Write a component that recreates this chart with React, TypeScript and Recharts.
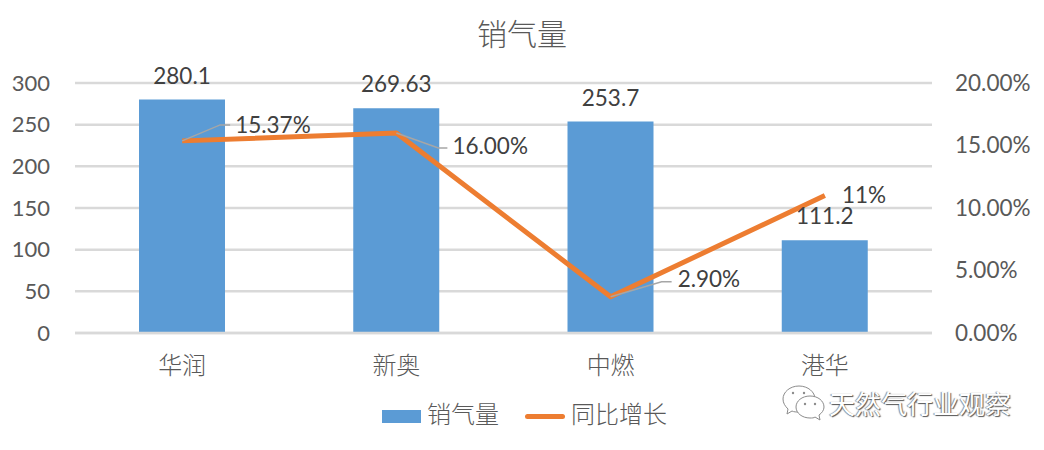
import { ComposedChart, Bar, Line, XAxis, YAxis, CartesianGrid, LabelList } from 'recharts';

const companies = ['华润', '新奥', '中燃', '港华'];
const salesVolume = [280.1, 269.63, 253.7, 111.2];
const growthPct = [15.37, 16.0, 2.9, 11];
const growthLabels = ['15.37%', '16.00%', '2.90%', '11%'];
const volumeTicks = [0, 50, 100, 150, 200, 250, 300];
const growthTicks = [0, 5, 10, 15, 20];

const chartData = companies.map((name, i) => ({
  name,
  sales: salesVolume[i],
  growth: growthPct[i],
}));

const LATIN = 'Lato, Carlito, sans-serif';
const CJK = '"Noto Sans CJK SC", sans-serif';
const GREY = '#595959';
const BAR_BLUE = '#5b9bd5';
const LINE_ORANGE = '#ed7d31';

// manual label placement, relative to each line point: [elbow dx, elbow dy, end dx, label dx, label dy]
const leaderOffsets = [
  [38, -16, 48, 53, -14],
  [42, 15, 51, 56, 15],
  [51, -15, 61, 67, -15],
  null,
];

function GrowthLabel({ x, y, index }: any) {
  const leader = leaderOffsets[index];
  if (!leader) {
    return (
      <text x={x + 17} y={y + 2} dominantBaseline="middle" fontSize={22.5} fontFamily={LATIN} fill="#404040">
        {growthLabels[index]}
      </text>
    );
  }
  const [ex, ey, endX, lx, ly] = leader;
  return (
    <g>
      <polyline
        points={`${x},${y} ${x + ex},${y + ey} ${x + endX},${y + ey}`}
        fill="none"
        stroke="#a6a6a6"
        strokeWidth={1.5}
      />
      <text x={x + lx} y={y + ly} dominantBaseline="middle" fontSize={22.5} fontFamily={LATIN} fill="#404040">
        {growthLabels[index]}
      </text>
    </g>
  );
}

function WeChatMark() {
  return (
    <svg width={48} height={40} style={{ position: 'absolute', left: 780, top: 384 }}>
      <g fill="#fff" stroke="#8c8c8c" strokeWidth={1}>
        <path d="M19 2c-9 0-16 6-16 13 0 4 2 7 5 10l-1 5 5-3c2 1 4 1 7 1 9 0 16-6 16-13S28 2 19 2z" />
        <path d="M30 12c-8 0-14 5-14 11s6 11 14 11c2 0 4 0 5-1l5 3-1-5c3-2 5-5 5-8 0-6-6-11-14-11z" />
      </g>
      <g fill="#8c8c8c">
        <circle cx={13} cy={9} r={1.2} />
        <circle cx={24} cy={9} r={1.2} />
        <circle cx={25} cy={20} r={1.2} />
        <circle cx={35} cy={20} r={1.2} />
      </g>
    </svg>
  );
}

export default function App() {
  return (
    <div style={{ position: 'absolute', left: 0, top: 0, width: 1044, height: 450, background: '#fff', overflow: 'hidden' }}>
      <ComposedChart
        width={1044}
        height={450}
        data={chartData}
        margin={{ top: 83, right: 0, bottom: 0, left: 0 }}
      >
        <CartesianGrid horizontal vertical={false} stroke="#d9d9d9" strokeWidth={2.5} yAxisId="left" />
        <XAxis
          dataKey="name"
          axisLine={{ stroke: '#d9d9d9', strokeWidth: 2.5 }}
          tickLine={false}
          height={117}
          tickMargin={18}
          tick={{ fontSize: 24, fontFamily: CJK, fill: GREY, fontWeight: 300 }}
        />
        <YAxis
          yAxisId="left"
          width={75}
          domain={[0, 300]}
          ticks={volumeTicks}
          axisLine={false}
          tickLine={false}
          tickMargin={19}
          tick={{ fontSize: 22, fontFamily: LATIN, fill: GREY }}
        />
        <YAxis
          yAxisId="right"
          orientation="right"
          width={112}
          domain={[0, 20]}
          ticks={growthTicks}
          tickFormatter={(v: number) => `${v.toFixed(2)}%`}
          axisLine={false}
          tickLine={false}
          tickMargin={17}
          tick={{ fontSize: 22.5, fontFamily: LATIN, fill: GREY }}
        />
        <Bar yAxisId="left" dataKey="sales" fill={BAR_BLUE} barSize={86} isAnimationActive={false}>
          <LabelList dataKey="sales" position="top" offset={16} fontSize={22.5} fontFamily={LATIN} fill="#404040" />
        </Bar>
        <Line
          yAxisId="right"
          dataKey="growth"
          stroke={LINE_ORANGE}
          strokeWidth={5}
          strokeLinejoin="round"
          dot={false}
          activeDot={false}
          isAnimationActive={false}
          label={(props: any) => <GrowthLabel key={props.index} {...props} />}
        />
      </ComposedChart>

      <div style={{ position: 'absolute', left: 0, width: 1044, top: 11, textAlign: 'center', fontFamily: CJK, fontSize: 30, color: GREY, lineHeight: '42px', fontWeight: 300 }}>
        销气量
      </div>

      <div style={{ position: 'absolute', left: 382, top: 410, width: 39, height: 13, background: BAR_BLUE }} />
      <div style={{ position: 'absolute', left: 427, top: 396, fontFamily: CJK, fontSize: 24, color: GREY, lineHeight: '34px', fontWeight: 300 }}>销气量</div>
      <div style={{ position: 'absolute', left: 525, top: 414, width: 40, height: 5, borderRadius: 3, background: LINE_ORANGE }} />
      <div style={{ position: 'absolute', left: 571, top: 396, fontFamily: CJK, fontSize: 24, color: GREY, lineHeight: '34px', fontWeight: 300 }}>同比增长</div>

      <WeChatMark />
      <div
        style={{
          position: 'absolute',
          left: 829,
          top: 385,
          fontFamily: CJK,
          fontSize: 26,
          lineHeight: '36px',
          color: '#fff',
          whiteSpace: 'nowrap',
          textShadow: '1px 1px 1px #555, -1px 0 1px #888',
        }}
      >
        天然气行业观察
      </div>
    </div>
  );
}
